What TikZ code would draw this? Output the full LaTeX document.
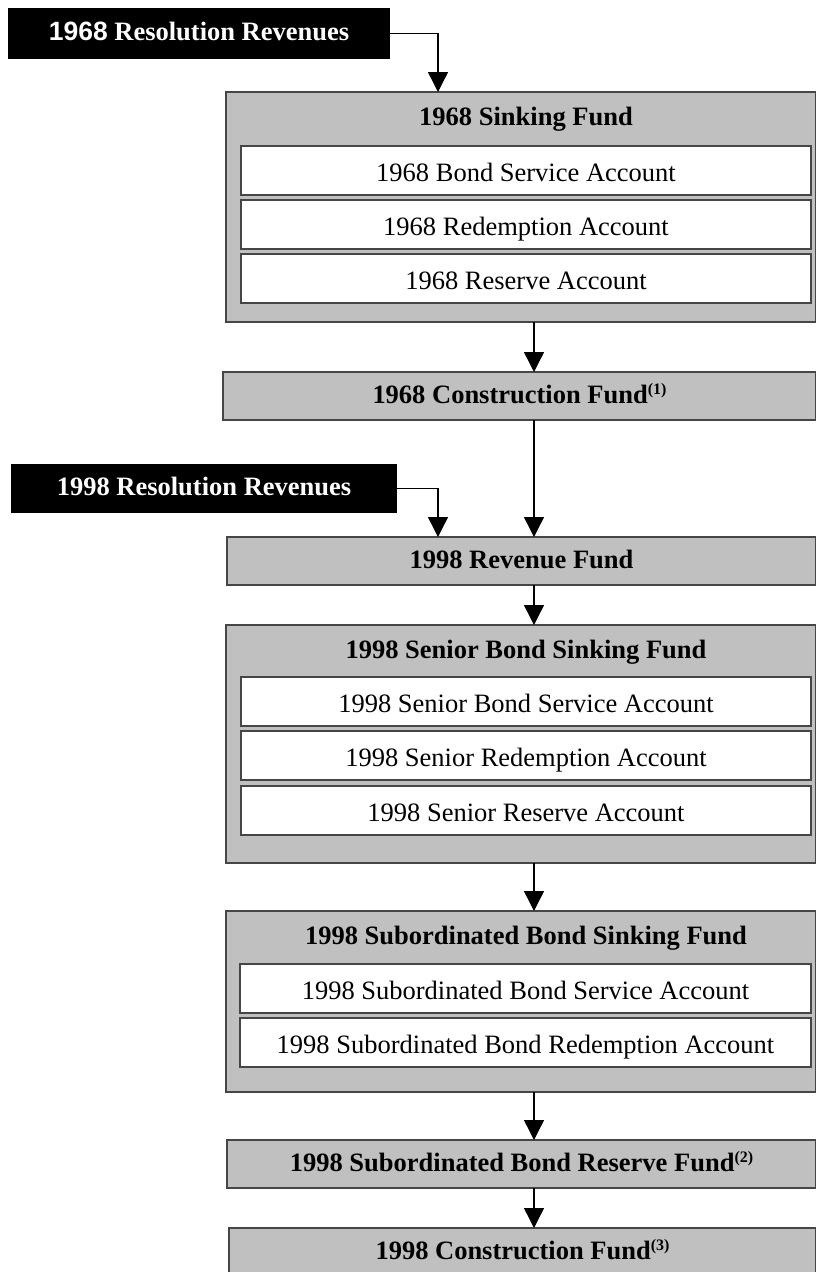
\documentclass[tikz,border=0pt]{standalone}
\usepackage{fontspec}
\setmainfont{Liberation Serif}
\newfontfamily\arialfont{Liberation Sans}
\usetikzlibrary{arrows.meta}
\usetikzlibrary{positioning}
\definecolor{fundgray}{RGB}{192,192,192}
\definecolor{edgegray}{RGB}{70,70,70}
\newcommand\boxfont{\fontsize{26.5}{30}\selectfont}
\newcommand\fnmark[1]{\raisebox{9pt}{\fontsize{16}{18}\selectfont(#1)}}

\begin{document}
\begin{tikzpicture}[x=1pt,y=-1pt,
    every node/.style={inner sep=0pt,outer sep=0pt,font=\boxfont},
    fund/.style={draw=edgegray,fill=fundgray,line width=1.3pt,anchor=north west,font=\boxfont\bfseries,
      text height=14pt,text depth=0pt},
    fundtitle/.style={font=\boxfont\bfseries,anchor=base},
    account/.style={draw=edgegray,fill=white,line width=1.3pt,anchor=north west,
      minimum width=570pt,minimum height=49pt,text height=21pt,text depth=0pt},
    source/.style={fill=black,text=white,anchor=north west,font=\boxfont\bfseries,
      text height=14pt,text depth=0pt},
    flow/.style={line width=1.4pt,-{Triangle[width=20pt,length=20pt]}}]
    \useasboundingbox (0,0) rectangle (816,1272);

    \coordinate (feed) at (438,0);
    \coordinate (spine) at (534,0);

    % 1968 resolution
    \node[source,minimum width=382pt,minimum height=51pt] (rev68) at (8,8) {{\arialfont 1968} Resolution Revenues};
    \node[fund,minimum width=590pt,minimum height=230pt] (sink68) at (226,92) {};
    \node[fundtitle] (sink68t) at (526,125) {1968 Sinking Fund};
    \node[account] (bs68) at (241,146) {1968 Bond Service Account};
    \node[account] (red68) at (241,200) {1968 Redemption Account};
    \node[account] (res68) at (241,254) {1968 Reserve Account};
    \node[fund,minimum width=593pt,minimum height=48pt] (con68) at (223,372) {1968 Construction Fund\fnmark{1}};

    % 1998 resolution
    \node[source,minimum width=386pt,minimum height=49pt] (rev98) at (11,464) {1998 Resolution Revenues};
    \node[fund,minimum width=589pt,minimum height=48pt] (fund98) at (227,537) {1998 Revenue Fund};
    \node[fund,minimum width=590pt,minimum height=238pt] (senior) at (226,625) {};
    \node[fundtitle] (seniort) at (526,658) {1998 Senior Bond Sinking Fund};
    \node[account] (sbs) at (241,677) {1998 Senior Bond Service Account};
    \node[account] (sred) at (241,731) {1998 Senior Redemption Account};
    \node[account] (sres) at (241,786) {1998 Senior Reserve Account};
    \node[fund,minimum width=590pt,minimum height=181pt] (sub) at (226,911) {};
    \node[fundtitle] (subt) at (526,944) {1998 Subordinated Bond Sinking Fund};
    \node[account,minimum width=571pt] (subbs) at (240,964) {1998 Subordinated Bond Service Account};
    \node[account,minimum width=571pt] (subred) at (240,1018) {1998 Subordinated Bond Redemption Account};
    \node[fund,minimum width=589pt,minimum height=48pt] (subres) at (227,1140) {1998 Subordinated Bond Reserve Fund\fnmark{2}};
    \node[fund,minimum width=587pt,minimum height=48pt] (con98) at (229,1228) {1998 Construction Fund\fnmark{3}};

    \draw[flow] (rev68.east) -| (sink68.north -| feed);
    \draw[flow] (sink68.south -| spine) -- (con68.north -| spine);
    \draw[flow] (con68.south -| spine) -- (fund98.north -| spine);
    \draw[flow] (rev98.east) -| (fund98.north -| feed);
    \draw[flow] (fund98.south -| spine) -- (senior.north -| spine);
    \draw[flow] (senior.south -| spine) -- (sub.north -| spine);
    \draw[flow] (sub.south -| spine) -- (subres.north -| spine);
    \draw[flow] (subres.south -| spine) -- (con98.north -| spine);
\end{tikzpicture}
\end{document}
